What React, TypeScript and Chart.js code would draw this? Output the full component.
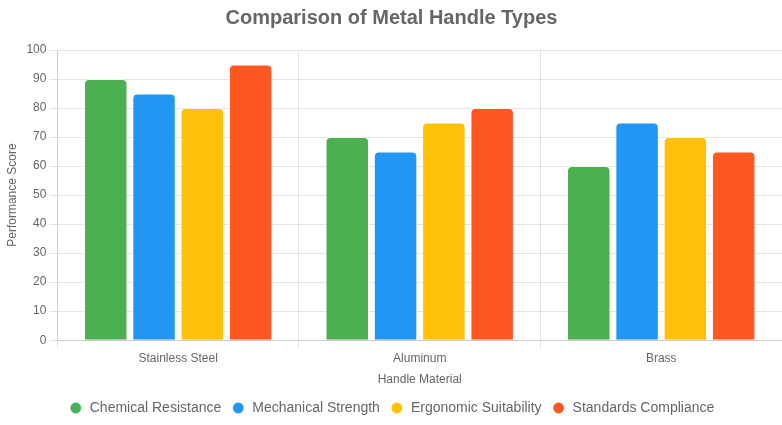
import React, { useEffect, useRef } from "react";
import { Chart, registerables } from "chart.js";

Chart.register(...registerables);

const categories = ["Stainless Steel", "Aluminum", "Brass"];
const seriesNames = ["Chemical Resistance", "Mechanical Strength", "Ergonomic Suitability", "Standards Compliance"];
const chemicalResistance = [90, 70, 60];
const mechanicalStrength = [85, 65, 75];
const ergonomicSuitability = [80, 75, 70];
const standardsCompliance = [95, 80, 65];
const colors = ["#4CAF50", "#2196F3", "#FFC107", "#FF5722"];

const FONT = "Arial, 'Liberation Sans', sans-serif";

export default function App() {
  const ref = useRef<HTMLCanvasElement | null>(null);
  useEffect(() => {
    document.body.style.margin = "0";
    if (!ref.current) return;
    const values = [chemicalResistance, mechanicalStrength, ergonomicSuitability, standardsCompliance];
    const chart = new Chart(ref.current, {
      type: "bar",
      data: {
        labels: categories,
        datasets: seriesNames.map((name, i) => ({
          label: name,
          data: values[i],
          backgroundColor: colors[i],
          borderColor: "rgba(255,255,255,0.5)",
          borderWidth: 1,
          borderRadius: 5,
        })),
      },
      options: {
        animation: false,
        responsive: true,
        maintainAspectRatio: false,
        layout: { padding: { left: 1, right: 0, top: 0, bottom: 0 } },
        plugins: {
          title: {
            display: true,
            text: "Comparison of Metal Handle Types",
            font: { size: 20, weight: "bold", family: FONT },
            color: "#666",
            padding: { top: 6, bottom: 20 },
          },
          legend: {
            position: "bottom",
            labels: {
              usePointStyle: true,
              pointStyle: "circle",
              boxWidth: 14,
              boxHeight: 8,
              font: { size: 14, family: FONT },
              color: "#666",
              padding: 10,
            },
          },
        },
        scales: {
          x: {
            title: {
              display: true,
              text: "Handle Material",
              font: { size: 12, family: FONT },
              color: "#666",
            },
            ticks: { font: { size: 12, family: FONT }, color: "#666" },
          },
          y: {
            min: 0,
            max: 100,
            ticks: { stepSize: 10, font: { size: 12, family: FONT }, color: "#666" },
            title: {
              display: true,
              text: "Performance Score",
              font: { size: 12, family: FONT },
              color: "#666",
            },
          },
        },
      },
    });
    return () => chart.destroy();
  }, []);
  return (
    <div style={{ position: "relative", width: "782px", height: "425px" }}>
      <canvas ref={ref} />
    </div>
  );
}
